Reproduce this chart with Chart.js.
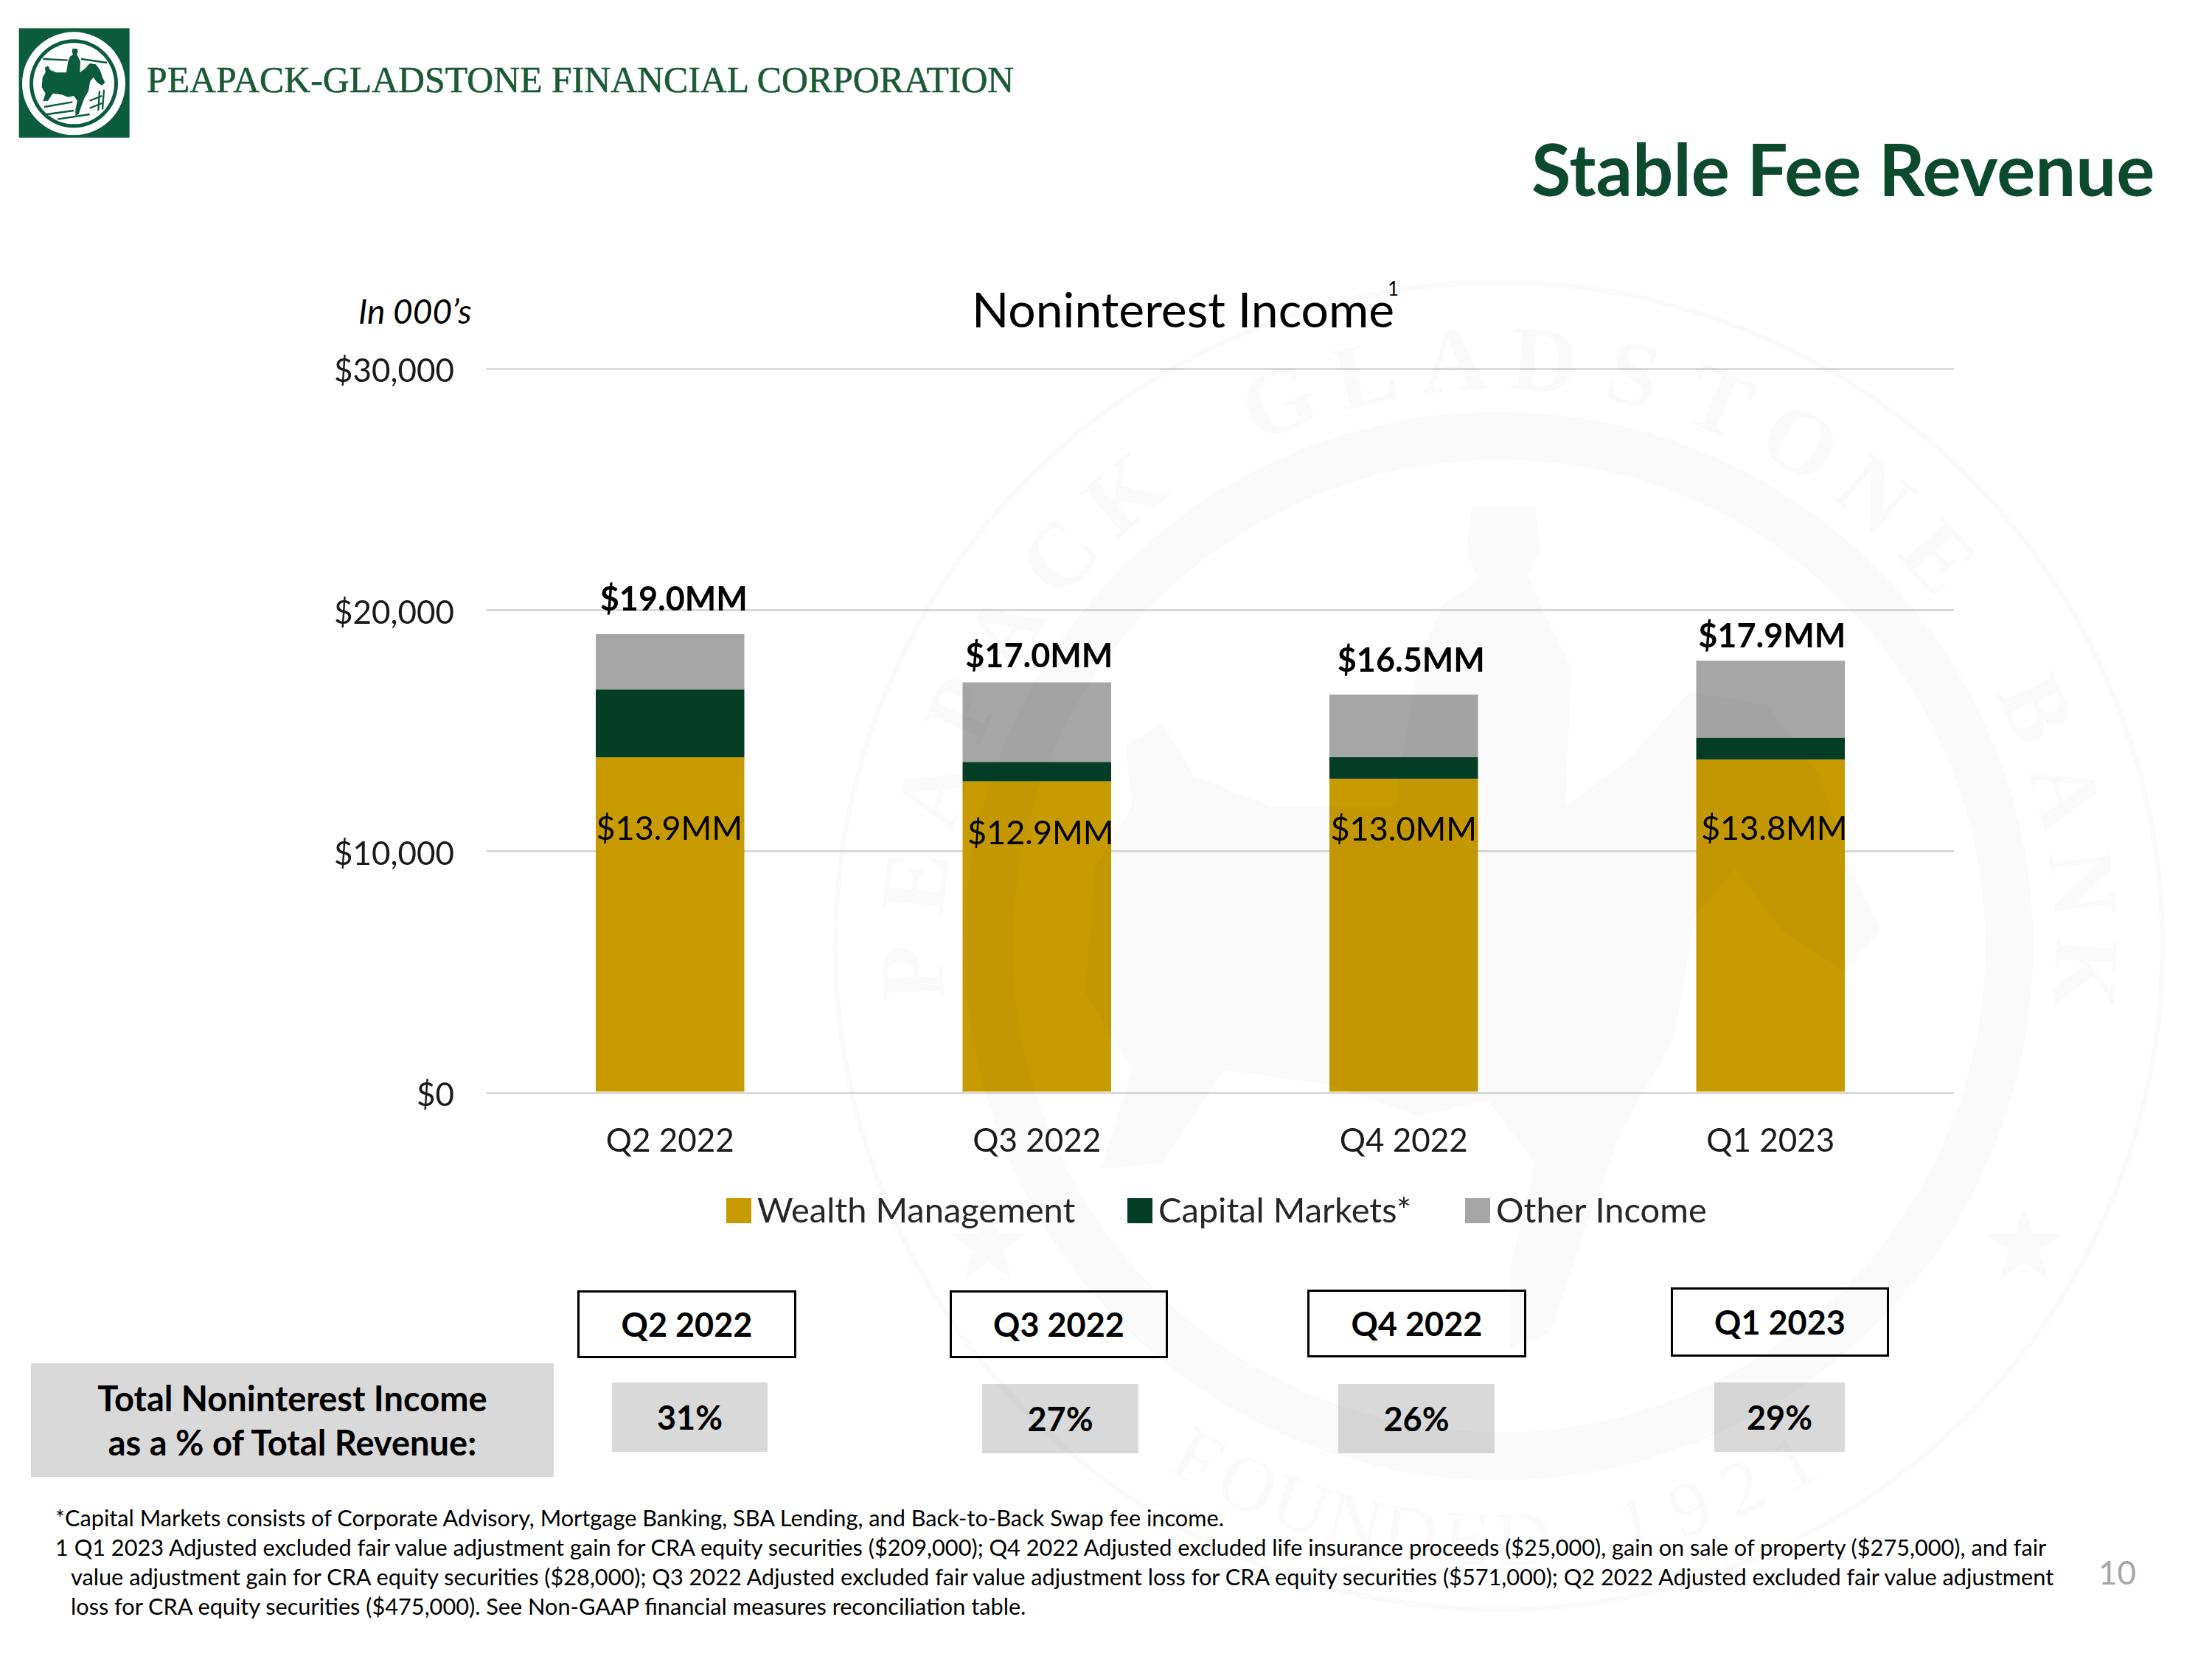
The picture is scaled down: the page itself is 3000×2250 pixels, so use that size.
<!DOCTYPE html>
<html>
<head>
<meta charset="utf-8">
<script src="https://cdn.jsdelivr.net/npm/chart.js@4"></script>
<style>
	html, body { margin: 0; padding: 0; background: #fff; }
	#page { position: relative; width: 3000px; height: 2250px; overflow: hidden; font-family: Lato, sans-serif; color: #000; }
	#page > div, #page > svg { position: absolute; }
	.t { white-space: nowrap; line-height: 1; }
	.box { box-sizing: border-box; display: flex; align-items: center; justify-content: center; font-weight: 700; }
	.quarter { border: 3px solid #000; background: #fff; font-size: 45px; }
	.pct { background: #d9d9d9; font-size: 45px; }
	.note { font-size: 30.7px; }
	#myChart { position: absolute; left: 0; top: 0; pointer-events: none; }
</style>
</head>
<body>
<div id="page">
	<svg style="left:15px;top:30px" width="170" height="170" viewBox="0 0 510 510">
		<rect x="32" y="25" width="450" height="445" fill="#0b5c3c"/>
		<circle cx="255" cy="250" r="210" fill="#fff"/>
		<circle cx="255" cy="250" r="180" fill="#0b5c3c"/>
		<circle cx="255" cy="250" r="165" fill="#fff"/>
		<path id="logoRider" fill="#0b5c3c" d="M250 108 L270 108 L272 122 L268 130 L272 140 L282 160 L280 205 L300 190 L320 168 L345 172 L362 195 L372 225 L382 245 L370 258 L350 245 L335 225 L322 240 L315 280 L298 310 L285 345 L275 375 L262 380 L262 355 L270 320 L255 300 L232 305 L205 295 L170 290 L150 320 L130 322 L140 290 L125 265 L128 225 L140 205 L138 185 L150 178 L160 195 L185 205 L225 205 L232 160 L240 140 L252 132 L248 122 Z"/>
		<path d="M130 150 L230 155 M285 150 L390 165 M135 345 L250 325 M145 375 L255 360 M190 395 L320 375 M320 320 L370 300 M320 350 L370 330 M360 280 L355 360 M378 275 L372 355" stroke="#0b5c3c" stroke-width="7" fill="none"/>
	</svg>
	<div class="t" style="left:199px;top:79px;font:51px 'Liberation Serif',serif;color:#1c5a36;-webkit-text-stroke:0.6px #1c5a36;transform-origin:0 0;transform:scaleX(0.976)">PEAPACK-GLADSTONE FINANCIAL CORPORATION</div>

	<div class="t" style="left:2077px;top:180px;font-size:97.5px;font-weight:700;color:#0b4a2f">Stable Fee Revenue</div>
	<div class="t" style="left:486px;top:399px;font-size:46px;font-style:italic">In 000’s</div>
	<div class="t" style="left:1318px;top:386px;font-size:66px">Noninterest Income</div>
	<div class="t" style="left:1882px;top:378px;font-size:26px">1</div>

	<div class="box quarter" style="left:783px;top:1750px;width:297px;height:92px">Q2 2022</div>
	<div class="box quarter" style="left:1288px;top:1750px;width:296px;height:92px">Q3 2022</div>
	<div class="box quarter" style="left:1773px;top:1749px;width:297px;height:92px">Q4 2022</div>
	<div class="box quarter" style="left:2266px;top:1746px;width:296px;height:94px">Q1 2023</div>

	<div class="box" style="left:42px;top:1849px;width:709px;height:154px;background:#d9d9d9;font-size:47px;line-height:60px;text-align:center">Total Noninterest Income<br>as a % of Total Revenue:</div>
	<div class="box pct" style="left:830px;top:1875px;width:211px;height:94px">31%</div>
	<div class="box pct" style="left:1332px;top:1877px;width:212px;height:94px">27%</div>
	<div class="box pct" style="left:1815px;top:1877px;width:212px;height:94px">26%</div>
	<div class="box pct" style="left:2325px;top:1875px;width:177px;height:94px">29%</div>

	<div class="t note" style="left:75px;top:2044px">*Capital Markets consists of Corporate Advisory, Mortgage Banking, SBA Lending, and Back-to-Back Swap fee income.</div>
	<div class="t note" style="left:75px;top:2084px">1 Q1 2023 Adjusted excluded fair value adjustment gain for CRA equity securities ($209,000); Q4 2022 Adjusted excluded life insurance proceeds ($25,000), gain on sale of property ($275,000), and fair</div>
	<div class="t note" style="left:96px;top:2124px">value adjustment gain for CRA equity securities ($28,000); Q3 2022 Adjusted excluded fair value adjustment loss for CRA equity securities ($571,000); Q2 2022 Adjusted excluded fair value adjustment</div>
	<div class="t note" style="left:96px;top:2164px">loss for CRA equity securities ($475,000). See Non-GAAP financial measures reconciliation table.</div>
	<div class="t" style="left:2846px;top:2110px;font-size:44px;color:#a6a6a6">10</div>

	<canvas id="myChart" width="3000" height="2250"></canvas>
</div>
<script>
const quarters = ['Q2 2022', 'Q3 2022', 'Q4 2022', 'Q1 2023'];
const wealthManagement = [13900, 12900, 13000, 13800];
const capitalMarkets = [2800, 800, 900, 900];
const otherIncome = [2300, 3300, 2600, 3200];
const totalLabels = ['$19.0MM', '$17.0MM', '$16.5MM', '$17.9MM'];
const wealthLabels = ['$13.9MM', '$12.9MM', '$13.0MM', '$13.8MM'];
const yTicks = [0, 10000, 20000, 30000];

// Подписи на слайде стоят неровно, поэтому сдвиги в пикселях задаются отдельно.
const totalNudge = [[5, -47], [3, -35], [10, -45], [2, -33]];
const wealthNudge = [[-1, 97], [5, 71], [0, 69], [5, 94]];

const textFont = 'Lato, sans-serif';

function ArcText(ctx, text, cx, cy, r, startAngle, step, inward) {
	// Буквы по дуге: inward = нижняя часть печати, читается слева направо снизу.
	[...text].forEach((ch, i) => {
		const a = startAngle + step * i;
		ctx.save();
		ctx.translate(cx + r * Math.cos(a), cy + r * Math.sin(a));
		ctx.rotate(inward ? a - Math.PI / 2 : a + Math.PI / 2);
		ctx.fillText(ch, 0, 0);
		ctx.restore();
	});
}

function Star(ctx, x, y, r) {
	ctx.beginPath();
	for (let i = 0; i < 10; i++) {
		const rad = i % 2 ? r * 0.4 : r;
		const a = -Math.PI / 2 + (i * Math.PI) / 5;
		ctx.lineTo(x + rad * Math.cos(a), y + rad * Math.sin(a));
	}
	ctx.closePath();
	ctx.fill();
}

// Бледная печать банка поверх столбцов.
const sealPlugin = {
	id: 'seal',
	afterDatasetsDraw(chart) {
		const ctx = chart.ctx;
		const cx = 2033, cy = 1283;
		const sealColor = 'rgba(20, 80, 50, 0.028)';
		ctx.save();
		ctx.strokeStyle = sealColor;
		ctx.fillStyle = sealColor;
		ctx.lineWidth = 7;
		ctx.beginPath();
		ctx.arc(cx, cy, 900, 0, Math.PI * 2);
		ctx.stroke();
		ctx.lineWidth = 65;
		ctx.beginPath();
		ctx.arc(cx, cy, 692, 0, Math.PI * 2);
		ctx.stroke();

		ctx.textAlign = 'center';
		ctx.textBaseline = 'alphabetic';
		ctx.font = '700 125px "Liberation Serif", serif';
		ArcText(ctx, 'PEAPACK GLADSTONE BANK', cx, cy, 755, Math.PI - 0.046, 0.154, false);
		ctx.font = '400 105px "Liberation Serif", serif';
		ArcText(ctx, 'FOUNDED 1921', cx, cy, 840, 2.103, -0.0955, true);
		Star(ctx, 1340, 1690, 55);
		Star(ctx, 2745, 1690, 55);

		// Всадник тот же, что на логотипе, только большой.
		const rider = new Path2D(document.getElementById('logoRider').getAttribute('d'));
		ctx.translate(cx - 15, cy);
		ctx.scale(4.2, 4.2);
		ctx.translate(-255, -250);
		ctx.fill(rider);
		ctx.restore();
	}
};

// Подписи значений и легенда: плотная, как на слайде.
const labelsPlugin = {
	id: 'slideLabels',
	afterDraw(chart) {
		const ctx = chart.ctx;
		const meta = chart.getDatasetMeta(0);
		const y = chart.scales.y;
		ctx.save();
		ctx.fillStyle = '#000';
		ctx.textAlign = 'center';
		ctx.textBaseline = 'middle';
		quarters.forEach((q, i) => {
			const top = wealthManagement[i] + capitalMarkets[i] + otherIncome[i];
			ctx.font = '700 45px ' + textFont;
			ctx.fillText(totalLabels[i], meta.data[i].x + totalNudge[i][0], y.getPixelForValue(top) + totalNudge[i][1]);
			ctx.font = '45px ' + textFont;
			ctx.fillText(wealthLabels[i], meta.data[i].x + wealthNudge[i][0], y.getPixelForValue(wealthManagement[i]) + wealthNudge[i][1]);
		});

		const legendBoxes = [985, 1529, 1987];
		ctx.textAlign = 'left';
		ctx.font = '47px ' + textFont;
		chart.data.datasets.forEach((ds, i) => {
			ctx.fillStyle = ds.backgroundColor;
			ctx.fillRect(legendBoxes[i], 1625, 34, 34);
			ctx.fillStyle = '#262626';
			ctx.fillText(ds.label, legendBoxes[i] + 42, 1643);
		});
		ctx.restore();
	}
};

const chart = new Chart(document.getElementById('myChart').getContext('2d'), {
	type: 'bar',
	data: {
		labels: quarters,
		datasets: [
			{ label: 'Wealth Management', data: wealthManagement, backgroundColor: '#c79a00' },
			{ label: 'Capital Markets*', data: capitalMarkets, backgroundColor: '#033d26' },
			{ label: 'Other Income', data: otherIncome, backgroundColor: '#a6a6a6' }
		]
	},
	options: {
		responsive: false,
		animation: false,
		layout: { padding: { left: 0, right: 350, top: 500, bottom: 668 } },
		datasets: { bar: { barPercentage: 0.405, categoryPercentage: 1 } },
		plugins: { legend: { display: false }, title: { display: false }, tooltip: { enabled: false } },
		scales: {
			x: {
				stacked: true,
				afterFit: scale => { scale.height = 100; },
				grid: { display: false },
				border: { display: false },
				ticks: { color: '#1a1a1a', font: { family: textFont, size: 44 }, padding: 31, maxRotation: 0, autoSkip: false }
			},
			y: {
				stacked: true,
				min: 0,
				max: 30000,
				afterFit: scale => { scale.width = 660; },
				afterBuildTicks: scale => { scale.ticks = yTicks.map(value => ({ value })); },
				grid: { color: '#d9d9d9', lineWidth: 3, drawTicks: false },
				border: { display: false },
				ticks: {
					color: '#1a1a1a',
					font: { family: textFont, size: 44 },
					padding: 44,
					labelOffset: 4,
					callback: value => '$' + value.toLocaleString('en-US')
				}
			}
		}
	},
	plugins: [sealPlugin, labelsPlugin]
});
</script>
</body>
</html>
